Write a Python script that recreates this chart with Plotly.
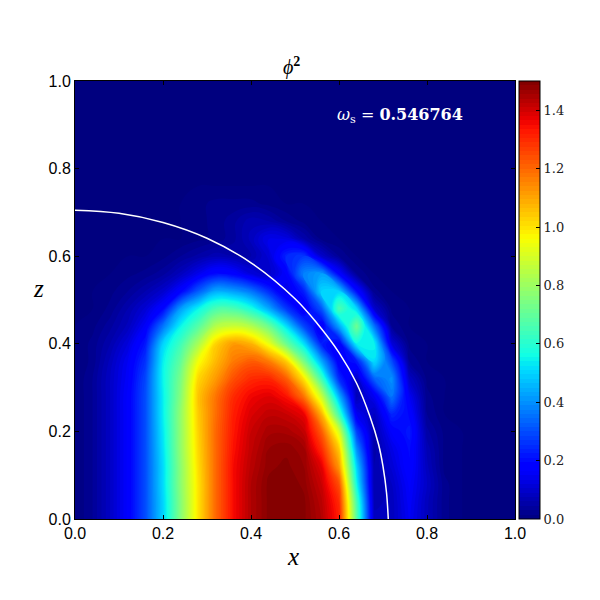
import plotly.graph_objects as go

x_vals = [0,.04,.08,.12,.16,.20,.24,.28,.32,.36,.40,.44,.48,.52,.56,.60,.64,.68,.72,.76,.80,.84,.88,.92,.96,1.0]
z_vals = [0,.04,.08,.12,.16,.20,.24,.28,.32,.36,.40,.44,.48,.52,.56,.60,.64,.68,.72,.76,.80,.84,.88,.92,.96,1.0]
phi2 = [
 [0,.03,.09,.17,.30,.50,.76,1.0,1.2,1.35,1.44,1.49,1.5,1.49,1.44,1.32,.68,.08,.08,.15,.08,.02,0,0,0,0],
 [0,.03,.09,.17,.30,.50,.76,1.0,1.2,1.35,1.44,1.49,1.5,1.49,1.43,1.30,.65,.07,.08,.16,.08,.02,0,0,0,0],
 [0,.03,.09,.17,.30,.51,.77,1.0,1.2,1.35,1.44,1.49,1.5,1.48,1.41,1.24,.56,.06,.09,.17,.09,.02,0,0,0,0],
 [0,.03,.09,.17,.30,.51,.77,1.01,1.2,1.35,1.43,1.48,1.49,1.47,1.38,1.12,.50,.06,.11,.19,.08,.01,0,0,0,0],
 [0,.03,.09,.17,.30,.52,.78,1.02,1.2,1.34,1.42,1.47,1.48,1.46,1.30,1.04,.40,.05,.13,.20,.07,.01,0,0,0,0],
 [0,.03,.09,.17,.30,.53,.78,1.03,1.2,1.33,1.41,1.45,1.45,1.42,1.22,.90,.28,.06,.17,.22,.05,.01,0,0,0,0],
 [0,.03,.09,.17,.30,.54,.78,1.04,1.19,1.32,1.39,1.42,1.41,1.37,1.08,.64,.15,.08,.24,.19,.03,0,0,0,0,0],
 [0,.03,.09,.17,.30,.54,.76,1.05,1.18,1.30,1.36,1.38,1.34,1.18,.88,.45,.07,.15,.36,.15,.02,0,0,0,0,0],
 [0,.03,.09,.16,.29,.55,.74,1.02,1.12,1.24,1.30,1.31,1.22,1.0,.65,.25,.09,.33,.40,.09,.01,0,0,0,0,0],
 [0,.02,.08,.15,.26,.54,.70,.95,1.07,1.17,1.22,1.17,1.04,.74,.44,.16,.22,.52,.30,.03,0,0,0,0,0,0],
 [0,.02,.06,.12,.22,.50,.64,.82,1.03,1.12,1.08,.94,.72,.52,.23,.16,.55,.55,.12,.01,0,0,0,0,0,0],
 [0,.01,.04,.08,.16,.36,.55,.68,.84,.88,.84,.72,.52,.29,.15,.43,.72,.36,.03,0,0,0,0,0,0,0],
 [0,0,.02,.06,.11,.19,.42,.55,.66,.66,.58,.44,.27,.15,.31,.66,.51,.10,.01,0,0,0,0,0,0,0],
 [0,0,.01,.03,.06,.10,.18,.32,.44,.42,.36,.25,.13,.23,.50,.50,.20,.02,0,0,0,0,0,0,0,0],
 [0,0,0,.01,.02,.04,.08,.14,.20,.18,.12,.09,.17,.38,.42,.18,.03,0,0,0,0,0,0,0,0,0],
 [0,0,0,0,0,.01,.03,.05,.07,.06,.06,.11,.24,.27,.10,.03,0,0,0,0,0,0,0,0,0,0],
 [0,0,0,0,0,0,0,.01,.02,.04,.08,.14,.13,.06,.01,0,0,0,0,0,0,0,0,0,0,0],
 [0,0,0,0,0,0,0,.01,.02,.04,.07,.06,.03,.01,0,0,0,0,0,0,0,0,0,0,0,0],
 [0,0,0,0,0,0,0,.01,.02,.02,.02,.01,0,0,0,0,0,0,0,0,0,0,0,0,0,0],
 [0]*26,[0]*26,[0]*26,[0]*26,[0]*26,[0]*26,[0]*26,
]
curve_x = [0,.1,.2,.3,.4,.5,.55,.6,.64,.67,.69,.70,.708,.712]
curve_z = [.705,.698,.677,.641,.585,.503,.447,.38,.31,.235,.17,.12,.06,0]
bar_ticks = [0,.2,.4,.6,.8,1.0,1.2,1.4]
axis_ticks = [0,.2,.4,.6,.8,1.0]

jet = [[0,"#00007f"],[.11,"#0000ff"],[.125,"#0000ff"],[.34,"#00dbff"],[.35,"#00e5f7"],[.375,"#11ffe5"],
       [.5,"#7fff7f"],[.64,"#f9ff00"],[.66,"#ffea00"],[.89,"#ff1300"],[.91,"#ee0000"],[1,"#7f0000"]]

fig = go.Figure()
fig.add_trace(go.Contour(x=x_vals, y=z_vals, z=phi2, zmin=0, zmax=1.5, colorscale=jet,
    contours=dict(coloring="fill", start=0.0, end=1.5, size=.015, showlines=False),
    line=dict(width=0, smoothing=1.3),
    colorbar=dict(x=511/600, xanchor="left", xpad=0, y=89/600, yanchor="bottom", len=438/600, lenmode="fraction",
                  thickness=21, thicknessmode="pixels", ypad=0,
                  outlinecolor="black", outlinewidth=1, tickmode="array", tickvals=bar_ticks,
                  ticktext=[f"{t:.1f}" for t in bar_ticks], ticks="inside", ticklen=4, tickcolor="black",
                  tickfont=dict(family="DejaVu Serif", size=13, color="#222"))))
fig.add_trace(go.Scatter(x=curve_x, y=curve_z, mode="lines", line=dict(color="white", width=1.5, shape="spline"),
                         showlegend=False, hoverinfo="skip"))

axis = dict(range=[0,1], tickmode="array", tickvals=axis_ticks, ticktext=[f"{t:.1f}" for t in axis_ticks],
            ticks="inside", ticklen=4, tickcolor="black", showline=True, mirror="ticks", linecolor="black",
            linewidth=1, showgrid=False, zeroline=False, tickfont=dict(family="Liberation Sans", size=16, color="black"))
fig.update_xaxes(domain=[67/600,507/600], **axis)
fig.update_yaxes(domain=[89/600,527/600], **axis)

def note(text, px, py, size, color="black", family="Liberation Serif"):
    fig.add_annotation(text=text, xref="paper", yref="paper", x=(px-8)/600, y=1-(py-8)/600, showarrow=False,
                       xanchor="center", yanchor="middle", font=dict(family=family, size=size, color=color))

note("<i>ϕ</i><sup><b>2</b></sup>", 291, 66, 20)
note("<i>x</i>", 293, 556, 25)
note("<i>z</i>", 38, 289, 25)
note("<i>ω</i><sub>s</sub> = <b>0.546764</b>", 400, 116, 16, color="white", family="DejaVu Serif")

fig.update_layout(width=600, height=600, margin=dict(l=0,r=0,t=0,b=0,autoexpand=False), paper_bgcolor="white",
                  plot_bgcolor="white", showlegend=False)
fig.write_html("out.html")
